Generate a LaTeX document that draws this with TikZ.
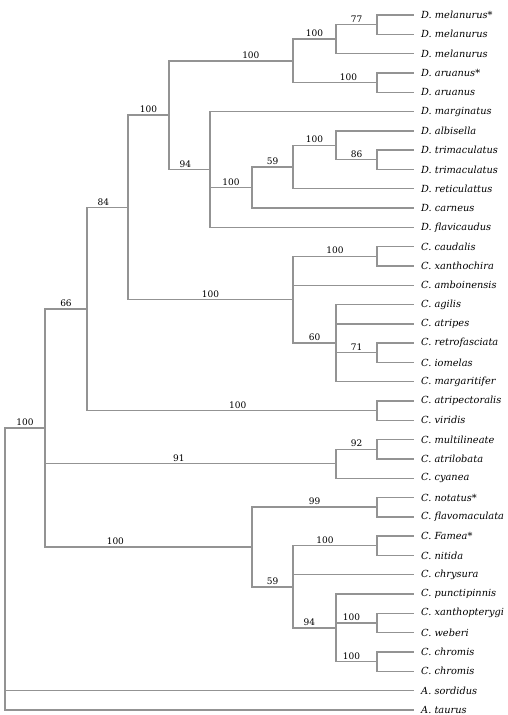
\documentclass[tikz,border=0pt]{standalone}
\usepackage{fontspec}
\setmainfont{DejaVu Serif}
\usepackage{xcolor}
\usepackage{tikz}
\usetikzlibrary{positioning,calc}
\definecolor{TreeGrey}{HTML}{939393}

\begin{document}
\begin{tikzpicture}[
            x=1pt, y=-1pt,
            font=\fontsize{9}{10}\selectfont,
            branch/.style={draw=TreeGrey, line width=1.4pt},
            leaf/.style={
                    anchor=west,
                    inner xsep=7pt,
                    inner ysep=0pt,
                    font=\fontsize{9.8}{11}\selectfont\itshape
                },
            boot/.style={above, inner sep=1.5pt},
        ]
        \useasboundingbox (0,0) rectangle (507,715);

        % tips
        \node[leaf] (melanurusA) at (414,15) {D. melanurus*};
        \node[leaf] (melanurusB) at (414,34.3) {D. melanurus};
        \node[leaf] (melanurusC) at (414,53.6) {D. melanurus};
        \node[leaf] (aruanusA) at (414,72.9) {D. aruanus*};
        \node[leaf] (aruanusB) at (414,92.2) {D. aruanus};
        \node[leaf] (marginatus) at (414,111.5) {D. marginatus};
        \node[leaf] (albisella) at (414,130.8) {D. albisella};
        \node[leaf] (trimaculatusA) at (414,150.1) {D. trimaculatus};
        \node[leaf] (trimaculatusB) at (414,169.4) {D. trimaculatus};
        \node[leaf] (reticulattus) at (414,188.7) {D. reticulattus};
        \node[leaf] (carneus) at (414,208) {D. carneus};
        \node[leaf] (flavicaudus) at (414,227.3) {D. flavicaudus};
        \node[leaf] (caudalis) at (414,246.6) {C. caudalis};
        \node[leaf] (xanthochira) at (414,265.9) {C. xanthochira};
        \node[leaf] (amboinensis) at (414,285.2) {C. amboinensis};
        \node[leaf] (agilis) at (414,304.5) {C. agilis};
        \node[leaf] (atripes) at (414,323.8) {C. atripes};
        \node[leaf] (retrofasciata) at (414,343.1) {C. retrofasciata};
        \node[leaf] (iomelas) at (414,362.4) {C. iomelas};
        \node[leaf] (margaritifer) at (414,381.7) {C. margaritifer};
        \node[leaf] (atripectoralis) at (414,401) {C. atripectoralis};
        \node[leaf] (viridis) at (414,420.3) {C. viridis};
        \node[leaf] (multilineate) at (414,439.6) {C. multilineate};
        \node[leaf] (atrilobata) at (414,458.9) {C. atrilobata};
        \node[leaf] (cyanea) at (414,478.2) {C. cyanea};
        \node[leaf] (notatus) at (414,497.5) {C. notatus*};
        \node[leaf] (flavomaculata) at (414,516.8) {C. flavomaculata};
        \node[leaf] (famea) at (414,536.1) {C. Famea*};
        \node[leaf] (nitida) at (414,555.4) {C. nitida};
        \node[leaf] (chrysura) at (414,574.7) {C. chrysura};
        \node[leaf] (punctipinnis) at (414,594) {C. punctipinnis};
        \node[leaf] (xanthopterygi) at (414,613.3) {C. xanthopterygi};
        \node[leaf] (weberi) at (414,632.6) {C. weberi};
        \node[leaf] (chromisA) at (414,651.9) {C. chromis};
        \node[leaf] (chromisB) at (414,671.2) {C. chromis};
        \node[leaf] (sordidus) at (414,690.5) {A. sordidus};
        \node[leaf] (taurus) at (414,709.8) {A. taurus};

        % inner nodes
        \coordinate (root) at (5,569);
        \coordinate (nIn) at (45,428);
        \coordinate (nA) at (87,309);
        \coordinate (nB) at (128,207.4);
        \coordinate (nDas) at (169,115.1);
        \coordinate (nMelAru) at (293,60.8);
        \coordinate (nMel) at (336,39.1);
        \coordinate (nMel2) at (377,24.65);
        \coordinate (nAru) at (377,82.55);
        \coordinate (nDas2) at (210,169.4);
        \coordinate (nAlb3) at (252,187.5);
        \coordinate (nAlb2) at (293,167);
        \coordinate (nAlb) at (336,145.3);
        \coordinate (nTri) at (377,159.75);
        \coordinate (nChro) at (293,299.7);
        \coordinate (nCau) at (377,256.25);
        \coordinate (nAgi) at (336,343.1);
        \coordinate (nRet) at (377,352.75);
        \coordinate (nAtr) at (377,410.65);
        \coordinate (nMul2) at (336,463.7);
        \coordinate (nMul) at (377,449.25);
        \coordinate (nNotFam) at (252,547);
        \coordinate (nNot) at (377,507.15);
        \coordinate (nFam3) at (293,586.8);
        \coordinate (nFam) at (377,545.75);
        \coordinate (nPun) at (336,627.8);
        \coordinate (nXan) at (377,622.95);
        \coordinate (nChr) at (377,661.55);

        \draw[branch] (root) |- node[boot, pos=.75] {100} (nIn);
        \draw[branch] (root) |- (sordidus);
        \draw[branch] (root) |- (taurus);

        \draw[branch] (nIn) |- node[boot, pos=.75] {66} (nA);
        \draw[branch] (nIn) |- node[boot, pos=.73] {91} (nMul2);
        \draw[branch] (nIn) |- node[boot, pos=.67] {100} (nNotFam);

        \draw[branch] (nA) |- node[boot, pos=.7] {84} (nB);
        \draw[branch] (nA) |- node[boot, pos=.76] {100} (nAtr);
        \draw[branch] (nB) |- node[boot, pos=.75] {100} (nDas);
        \draw[branch] (nB) |- node[boot, pos=.75] {100} (nChro);

        \draw[branch] (nDas) |- node[boot, pos=.83] {100} (nMelAru);
        \draw[branch] (nDas) |- node[boot, pos=.7] {94} (nDas2);
        \draw[branch] (nMelAru) |- node[boot, pos=.75] {100} (nMel);
        \draw[branch] (nMelAru) |- node[boot, pos=.83] {100} (nAru);
        \draw[branch] (nMel) |- node[boot, pos=.75] {77} (nMel2);
        \draw[branch] (nMel) |- (melanurusC);
        \draw[branch] (nMel2) |- (melanurusA);
        \draw[branch] (nMel2) |- (melanurusB);
        \draw[branch] (nAru) |- (aruanusA);
        \draw[branch] (nAru) |- (aruanusB);

        \draw[branch] (nDas2) |- (marginatus);
        \draw[branch] (nDas2) |- node[boot, pos=.75] {100} (nAlb3);
        \draw[branch] (nDas2) |- (flavicaudus);
        \draw[branch] (nAlb3) |- node[boot, pos=.75] {59} (nAlb2);
        \draw[branch] (nAlb3) |- (carneus);
        \draw[branch] (nAlb2) |- node[boot, pos=.75] {100} (nAlb);
        \draw[branch] (nAlb2) |- (reticulattus);
        \draw[branch] (nAlb) |- (albisella);
        \draw[branch] (nAlb) |- node[boot, pos=.75] {86} (nTri);
        \draw[branch] (nTri) |- (trimaculatusA);
        \draw[branch] (nTri) |- (trimaculatusB);

        \draw[branch] (nChro) |- node[boot, pos=.75] {100} (nCau);
        \draw[branch] (nChro) |- (amboinensis);
        \draw[branch] (nChro) |- node[boot, pos=.75] {60} (nAgi);
        \draw[branch] (nCau) |- (caudalis);
        \draw[branch] (nCau) |- (xanthochira);
        \draw[branch] (nAgi) |- (agilis);
        \draw[branch] (nAgi) |- (atripes);
        \draw[branch] (nAgi) |- node[boot, pos=.75] {71} (nRet);
        \draw[branch] (nAgi) |- (margaritifer);
        \draw[branch] (nRet) |- (retrofasciata);
        \draw[branch] (nRet) |- (iomelas);

        \draw[branch] (nAtr) |- (atripectoralis);
        \draw[branch] (nAtr) |- (viridis);

        \draw[branch] (nMul2) |- node[boot, pos=.75] {92} (nMul);
        \draw[branch] (nMul2) |- (cyanea);
        \draw[branch] (nMul) |- (multilineate);
        \draw[branch] (nMul) |- (atrilobata);

        \draw[branch] (nNotFam) |- node[boot, pos=.75] {99} (nNot);
        \draw[branch] (nNotFam) |- node[boot, pos=.75] {59} (nFam3);
        \draw[branch] (nNot) |- (notatus);
        \draw[branch] (nNot) |- (flavomaculata);
        \draw[branch] (nFam3) |- node[boot, pos=.69] {100} (nFam);
        \draw[branch] (nFam3) |- (chrysura);
        \draw[branch] (nFam3) |- node[boot, pos=.69] {94} (nPun);
        \draw[branch] (nFam) |- (famea);
        \draw[branch] (nFam) |- (nitida);
        \draw[branch] (nPun) |- (punctipinnis);
        \draw[branch] (nPun) |- node[boot, pos=.69] {100} (nXan);
        \draw[branch] (nPun) |- node[boot, pos=.69] {100} (nChr);
        \draw[branch] (nXan) |- (xanthopterygi);
        \draw[branch] (nXan) |- (weberi);
        \draw[branch] (nChr) |- (chromisA);
        \draw[branch] (nChr) |- (chromisB);

    \end{tikzpicture}
\end{document}
